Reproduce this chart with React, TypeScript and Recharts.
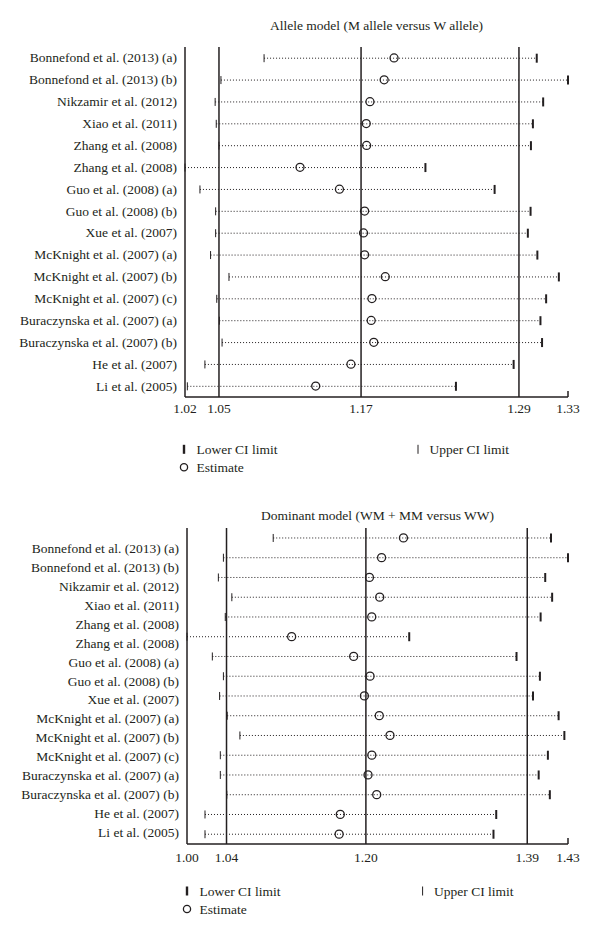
import React from 'react';
import { ComposedChart, Bar, Line, XAxis, YAxis, ReferenceLine } from 'recharts';

// ---------- data ----------
const studies = [
  'Bonnefond et al. (2013) (a)',
  'Bonnefond et al. (2013) (b)',
  'Nikzamir et al. (2012)',
  'Xiao et al. (2011)',
  'Zhang et al. (2008)',
  'Zhang et al. (2008)',
  'Guo et al. (2008) (a)',
  'Guo et al. (2008) (b)',
  'Xue et al. (2007)',
  'McKnight et al. (2007) (a)',
  'McKnight et al. (2007) (b)',
  'McKnight et al. (2007) (c)',
  'Buraczynska et al. (2007) (a)',
  'Buraczynska et al. (2007) (b)',
  'He et al. (2007)',
  'Li et al. (2005)',
];

const alleleLower = [1.084, 1.0491, 1.0444, 1.0453, 1.0475, 1.02, 1.0321, 1.0448, 1.0448, 1.0407, 1.0556, 1.0457, 1.0478, 1.05, 1.0361, 1.0219];
const alleleEstimate = [1.1892, 1.1812, 1.1697, 1.1667, 1.167, 1.1131, 1.145, 1.1654, 1.1645, 1.1654, 1.1821, 1.1713, 1.1707, 1.1728, 1.1543, 1.1258];
const alleleUpper = [1.3047, 1.33, 1.3099, 1.3016, 1.3, 1.2146, 1.2706, 1.2997, 1.2975, 1.3052, 1.3226, 1.3123, 1.3077, 1.309, 1.286, 1.2393];
const allelePooled = [1.0475, 1.1625, 1.2903];
const alleleDomain = [1.02, 1.33];
const alleleTickValues = [1.02, 1.0475, 1.1625, 1.2903, 1.33];
const alleleTickLabels = ['1.02', '1.05', '1.17', '1.29', '1.33'];

const dominantLower = [1.0973, 1.0411, 1.0354, 1.0506, 1.0432, 1.0, 1.0286, 1.0411, 1.0368, 1.0454, 1.0597, 1.0376, 1.0376, 1.0449, 1.0203, 1.0203];
const dominantEstimate = [1.2443, 1.2196, 1.2059, 1.2175, 1.2085, 1.1181, 1.1881, 1.2066, 1.2002, 1.217, 1.2291, 1.2086, 1.2043, 1.2141, 1.173, 1.1717];
const dominantUpper = [1.4108, 1.43, 1.4043, 1.4121, 1.3991, 1.2508, 1.3719, 1.3983, 1.3905, 1.4194, 1.4259, 1.4073, 1.3969, 1.4095, 1.349, 1.3459];
const dominantPooled = [1.0446, 1.2019, 1.384];
const dominantDomain = [1.0, 1.43];
const dominantTickValues = [1.0, 1.0446, 1.2019, 1.384, 1.43];
const dominantTickLabels = ['1.00', '1.04', '1.20', '1.39', '1.43'];

const alleleTitle = 'Allele model (M allele versus W allele)';
const dominantTitle = 'Dominant model (WM + MM versus WW)';
const legendLabels = ['Lower CI limit', 'Upper CI limit', 'Estimate'];

// ---------- style ----------
const INK = '#231f20';
const SERIF = "'Liberation Serif', 'DejaVu Serif', serif";
const FS = 13.5;

const RangeShape = (props: any) => {
  const { x, y, width, height } = props;
  const cy = y + height / 2;
  const x1 = x;
  const x2 = x + width;
  return (
    <g>
      <line x1={x1} x2={x2} y1={cy} y2={cy} stroke={INK} strokeWidth={1} strokeDasharray="1 2" />
      <line x1={x1} x2={x1} y1={cy - 4} y2={cy + 4} stroke={INK} strokeWidth={1} />
      <line x1={x2} x2={x2} y1={cy - 4.5} y2={cy + 4.5} stroke={INK} strokeWidth={2} />
    </g>
  );
};

const EstimateDot = (p: any) => {
  if (p.cx == null || p.cy == null) return <g key={p.index} />;
  return <circle key={p.index} cx={p.cx} cy={p.cy} r={4} fill="none" stroke={INK} strokeWidth={1.3} />;
};

const makeTick = (values: number[], labels: string[], gap: number) => (p: any) => {
  const { x, y, payload, index } = p;
  let i = values.indexOf(payload?.value);
  if (i < 0) i = index;
  const axisY = y - gap;
  return (
    <g key={i}>
      <text x={x} y={y} dy="0.71em" textAnchor="middle" fontFamily={SERIF} fontSize={FS} fill={INK}>
        {labels[i]}
      </text>
      {i === values.length - 1 && (
        <line x1={x} x2={x} y1={axisY} y2={axisY - 6} stroke={INK} strokeWidth={1.5} />
      )}
    </g>
  );
};

const StudyTick = (p: any) => {
  const v = typeof p.payload?.value === 'string' ? p.payload.value : studies[p.index];
  return (
    <text
      key={p.index}
      x={p.x}
      y={p.y}
      textAnchor="end"
      dominantBaseline="central"
      fontFamily={SERIF}
      fontSize={FS}
      fill={INK}
    >
      {v}
    </text>
  );
};

type PanelProps = {
  lower: number[];
  estimate: number[];
  upper: number[];
  pooled: number[];
  domain: number[];
  tickValues: number[];
  tickLabels: string[];
  height: number;
  marginTop: number;
  axisWidth: number;
  xAxisHeight: number;
  tickGap: number;
  labelPadding: { top: number; bottom: number };
};

const ForestPanel = (pp: PanelProps) => {
  const data = studies.map((s, i) => ({
    study: s,
    low: pp.lower[i],
    est: pp.estimate[i],
    high: pp.upper[i],
  }));
  return (
    <ComposedChart
      width={600}
      height={pp.height}
      data={data}
      layout="vertical"
      margin={{ top: pp.marginTop, right: 32, bottom: 0, left: 0 }}
    >
      <XAxis
        type="number"
        domain={pp.domain}
        ticks={pp.tickValues}
        interval={0}
        tickLine={false}
        tickSize={pp.tickGap}
        tickMargin={0}
        axisLine={{ stroke: INK, strokeWidth: 1.5 }}
        height={pp.xAxisHeight}
        tick={makeTick(pp.tickValues, pp.tickLabels, pp.tickGap)}
      />
      <YAxis yAxisId="rows" type="category" dataKey="study" hide />
      <YAxis
        yAxisId="labels"
        type="category"
        dataKey="study"
        width={pp.axisWidth}
        interval={0}
        tickLine={false}
        padding={pp.labelPadding}
        axisLine={{ stroke: INK, strokeWidth: 1.5 }}
        tick={StudyTick}
      />
      {pp.pooled.map((v, i) => (
        <ReferenceLine key={i} x={v} yAxisId="rows" stroke={INK} strokeWidth={1.5} />
      ))}
      <Bar
        yAxisId="rows"
        dataKey={(d: any) => [d.low, d.high]}
        shape={RangeShape}
        isAnimationActive={false}
        legendType="none"
      />
      <Line
        yAxisId="rows"
        dataKey="est"
        stroke="none"
        dot={EstimateDot}
        activeDot={false}
        isAnimationActive={false}
        legendType="none"
      />
    </ComposedChart>
  );
};

const LegendBlock = ({ x, y, upperX, rowGap }: { x: number; y: number; upperX: number; rowGap: number }) => (
  <g fontFamily={SERIF} fontSize={FS} fill={INK}>
    <rect x={x - 1.2} y={y - 4.5} width={2.4} height={9} fill={INK} />
    <text x={x + 12.5} y={y} dominantBaseline="central">{legendLabels[0]}</text>
    <line x1={upperX} x2={upperX} y1={y - 4.5} y2={y + 4.5} stroke={INK} strokeWidth={1} />
    <text x={upperX + 11.5} y={y} dominantBaseline="central">{legendLabels[1]}</text>
    <circle cx={x} cy={y + rowGap} r={3.6} fill="none" stroke={INK} strokeWidth={1.3} />
    <text x={x + 12.5} y={y + rowGap} dominantBaseline="central">{legendLabels[2]}</text>
  </g>
);

export default function App() {
  return (
    <div style={{ position: 'absolute', left: 0, top: 0, width: 600, height: 938, background: '#fff' }}>
      <div style={{ position: 'absolute', left: 0, top: 0 }}>
        <ForestPanel
          lower={alleleLower}
          estimate={alleleEstimate}
          upper={alleleUpper}
          pooled={allelePooled}
          domain={alleleDomain}
          tickValues={alleleTickValues}
          tickLabels={alleleTickLabels}
          height={430}
          marginTop={47}
          axisWidth={185}
          xAxisHeight={33}
          tickGap={6}
          labelPadding={{ top: 0, bottom: 0 }}
        />
      </div>
      <div style={{ position: 'absolute', left: 0, top: 480 }}>
        <ForestPanel
          lower={dominantLower}
          estimate={dominantEstimate}
          upper={dominantUpper}
          pooled={dominantPooled}
          domain={dominantDomain}
          tickValues={dominantTickValues}
          tickLabels={dominantTickLabels}
          height={400}
          marginTop={48}
          axisWidth={187}
          xAxisHeight={36}
          tickGap={8}
          labelPadding={{ top: 11, bottom: 2 }}
        />
      </div>
      <svg
        width={600}
        height={938}
        style={{ position: 'absolute', left: 0, top: 0, pointerEvents: 'none' }}
      >
        <text x={376.5} y={25} textAnchor="middle" dominantBaseline="central" fontFamily={SERIF} fontSize={FS} fill={INK}>
          {alleleTitle}
        </text>
        <text x={377.5} y={515.5} textAnchor="middle" dominantBaseline="central" fontFamily={SERIF} fontSize={FS} fill={INK}>
          {dominantTitle}
        </text>
        <LegendBlock x={184} y={449.3} upperX={418} rowGap={18} />
        <LegendBlock x={187} y={891} upperX={422.6} rowGap={18} />
      </svg>
    </div>
  );
}
